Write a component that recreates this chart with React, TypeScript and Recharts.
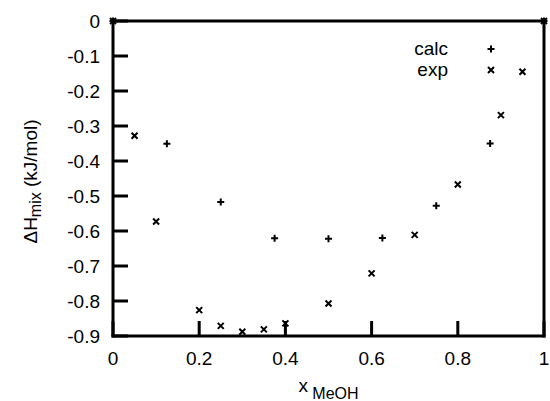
import { ScatterChart, Scatter, XAxis, YAxis } from "recharts";

const calcX = [0, 0.125, 0.25, 0.375, 0.5, 0.625, 0.75, 0.875, 1];
const calcH = [0, -0.351, -0.517, -0.621, -0.622, -0.62, -0.528, -0.35, 0];
const expX = [0, 0.05, 0.1, 0.2, 0.25, 0.3, 0.35, 0.4, 0.5, 0.6, 0.7, 0.8, 0.9, 0.95, 1];
const expH = [0, -0.328, -0.573, -0.826, -0.871, -0.888, -0.881, -0.864, -0.807, -0.721, -0.611, -0.467, -0.269, -0.145, 0];
const xTicks = [0, 0.2, 0.4, 0.6, 0.8, 1];
const yTicks = [-0.9, -0.8, -0.7, -0.6, -0.5, -0.4, -0.3, -0.2, -0.1, 0];
const seriesNames = ["calc", "exp"];

const calcData = calcX.map((x, i) => ({ x, h: calcH[i] }));
const expData = expX.map((x, i) => ({ x, h: expH[i] }));

const FONT = "'Liberation Sans', Arial, Helvetica, sans-serif";
const TICK_LEN = 15;
const MARGIN = 10;

function Plus({ cx, cy }: any) {
  return (
    <path
      d={`M${cx - 3.5},${cy}H${cx + 3.5}M${cx},${cy - 3.5}V${cy + 3.5}`}
      stroke="#000"
      strokeWidth={2}
    />
  );
}

function Cross({ cx, cy }: any) {
  return (
    <path
      d={`M${cx - 3},${cy - 3}L${cx + 3},${cy + 3}M${cx - 3},${cy + 3}L${cx + 3},${cy - 3}`}
      stroke="#000"
      strokeWidth={2}
    />
  );
}

function BottomTick({ x, y, payload }: any) {
  const ay = y - MARGIN;
  return (
    <g>
      <line x1={x} y1={ay} x2={x} y2={ay - TICK_LEN} stroke="#000" strokeWidth={3} />
      <text x={x} y={ay + 29} textAnchor="middle" fontSize={19} fontFamily={FONT} fill="#000">
        {payload.value === 0 || payload.value === 1 ? String(payload.value) : payload.value.toFixed(1)}
      </text>
    </g>
  );
}

function TopTick({ x, y }: any) {
  const ay = y + MARGIN;
  return <line x1={x} y1={ay} x2={x} y2={ay + TICK_LEN} stroke="#000" strokeWidth={3} />;
}

function LeftTick({ x, y, payload }: any) {
  const ax = x + MARGIN;
  return (
    <g>
      <line x1={ax} y1={y} x2={ax + TICK_LEN} y2={y} stroke="#000" strokeWidth={3} />
      <text x={ax - 13} y={y + 7} textAnchor="end" fontSize={19} fontFamily={FONT} fill="#000">
        {payload.value === 0 ? "0" : payload.value.toFixed(1)}
      </text>
    </g>
  );
}

function RightTick({ x, y }: any) {
  const ax = x - MARGIN;
  return <line x1={ax} y1={y} x2={ax - TICK_LEN} y2={y} stroke="#000" strokeWidth={3} />;
}

function YLabel({ viewBox }: any) {
  const cx = 37;
  const cy = viewBox.y + viewBox.height / 2 + 3;
  return (
    <text
      x={cx}
      y={cy}
      transform={`rotate(-90, ${cx}, ${cy})`}
      textAnchor="middle"
      fontSize={19}
      fontFamily={FONT}
      fill="#000"
    >
      ΔH
      <tspan dy={4} fontSize={16}>mix</tspan>
      <tspan dy={-4}> (kJ/mol)</tspan>
    </text>
  );
}

function XLabel({ viewBox }: any) {
  const cx = viewBox.x + viewBox.width / 2;
  return (
    <text x={cx} y={392} textAnchor="middle" fontSize={19} fontFamily={FONT} fill="#000">
      x<tspan dy={7} fontSize={16}> MeOH</tspan>
    </text>
  );
}

const axisLine = { stroke: "#000", strokeWidth: 3, strokeLinecap: "square" as const };

export default function App() {
  return (
    <div style={{ position: "absolute", left: 0, top: 0, width: 550, height: 401, background: "#fff" }}>
      <ScatterChart width={550} height={401} margin={{ top: 0, right: 0, bottom: 0, left: 0 }}>
        <XAxis
          xAxisId="bottom"
          dataKey="x"
          type="number"
          domain={[0, 1]}
          ticks={xTicks}
          height={65}
          axisLine={axisLine}
          tickLine={false}
          tickSize={0}
          tickMargin={MARGIN}
          tick={<BottomTick />}
          interval={0}
          label={<XLabel />}
        />
        <XAxis
          xAxisId="top"
          orientation="top"
          dataKey="x"
          type="number"
          domain={[0, 1]}
          ticks={xTicks}
          height={21}
          axisLine={axisLine}
          tickLine={false}
          tickSize={0}
          tickMargin={MARGIN}
          tick={<TopTick />}
          interval={0}
        />
        <YAxis
          yAxisId="left"
          dataKey="h"
          type="number"
          domain={[-0.9, 0]}
          ticks={yTicks}
          width={113}
          axisLine={axisLine}
          tickLine={false}
          tickSize={0}
          tickMargin={MARGIN}
          tick={<LeftTick />}
          interval={0}
          label={<YLabel />}
        />
        <YAxis
          yAxisId="right"
          orientation="right"
          dataKey="h"
          type="number"
          domain={[-0.9, 0]}
          ticks={yTicks}
          width={6}
          axisLine={axisLine}
          tickLine={false}
          tickSize={0}
          tickMargin={MARGIN}
          tick={<RightTick />}
          interval={0}
        />
        <Scatter
          name={seriesNames[0]}
          data={calcData}
          xAxisId="bottom"
          yAxisId="left"
          shape={<Plus />}
          isAnimationActive={false}
        />
        <Scatter
          name={seriesNames[1]}
          data={expData}
          xAxisId="bottom"
          yAxisId="left"
          shape={<Cross />}
          isAnimationActive={false}
        />
      </ScatterChart>
      <svg width={550} height={100} style={{ position: "absolute", left: 0, top: 0, pointerEvents: "none" }}>
        <text x={448} y={55} textAnchor="end" fontSize={19} fontFamily={FONT} fill="#000">
          {seriesNames[0]}
        </text>
        <Plus cx={491} cy={49} />
        <text x={448} y={76} textAnchor="end" fontSize={19} fontFamily={FONT} fill="#000">
          {seriesNames[1]}
        </text>
        <Cross cx={491} cy={70} />
      </svg>
    </div>
  );
}
